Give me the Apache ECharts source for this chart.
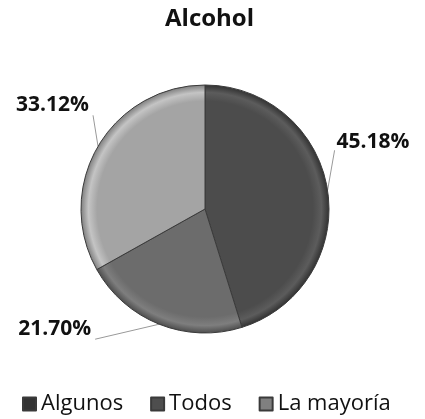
<!DOCTYPE html>
<html>
<head>
<meta charset="utf-8">
<script src="https://cdn.jsdelivr.net/npm/echarts@6/dist/echarts.min.js"></script>
<style>
  html, body { margin: 0; padding: 0; background: #fff; }
  #chart { width: 425px; height: 419px; }
</style>
</head>
<body>
<div id="chart"></div>
<script>
// Share of respondents by answer
const categories = ['Algunos', 'Todos', 'La mayoría'];
const shares = [45.18, 21.70, 33.12];

// base tone, rim highlight, outer edge for each slice
const sliceTones = [
  ['#4c4c4c', '#5c5c5c', '#333333'],
  ['#6c6c6c', '#7e7e7e', '#4e4e4e'],
  ['#a4a4a4', '#c4c4c4', '#808080']
];
// leader line elbow offset from the slice edge, and label side
const leaderOffset = [[7, -40], [-64, 15], [-5, -31]];
const labelSide = ['left', 'right', 'right'];

const chart = echarts.init(document.getElementById('chart'));
const font = '"Open Sans", "Liberation Sans", sans-serif';
const cx = 205, cy = 209, R = 124;

chart.setOption({
  animation: false,
  title: {
    text: 'Alcohol',
    left: 160,
    top: 2,
    textStyle: { fontFamily: font, fontSize: 24, fontWeight: 'bold', color: '#111' }
  },
  legend: {
    bottom: -1,
    left: 17,
    itemWidth: 13,
    itemHeight: 13,
    itemGap: 27,
    icon: 'rect',
    textStyle: { fontFamily: font, fontSize: 22, color: '#111' },
    data: categories
  },
  series: [{
    type: 'pie',
    center: [cx, cy],
    radius: R,
    startAngle: 90,
    clockwise: true,
    data: categories.map((name, i) => ({
      name: name,
      value: shares[i],
      itemStyle: {
        color: {
          type: 'radial', x: cx, y: cy, r: R, global: true,
          colorStops: [
            { offset: 0, color: sliceTones[i][0] },
            { offset: 0.87, color: sliceTones[i][0] },
            { offset: 0.94, color: sliceTones[i][1] },
            { offset: 1, color: sliceTones[i][2] }
          ]
        }
      }
    })),
    itemStyle: { borderColor: '#3a3a3a', borderWidth: 1 },
    label: {
      show: true,
      position: 'outside',
      overflow: 'none',
      formatter: p => shares[p.dataIndex].toFixed(2) + '%',
      fontFamily: font,
      fontSize: 21,
      fontWeight: 'bold',
      color: '#111'
    },
    labelLine: {
      show: true,
      length: 10,
      length2: 4,
      lineStyle: { color: '#999', width: 1 }
    },
    labelLayout: p => {
      const i = p.dataIndex;
      const start = p.labelLinePoints[0];
      const end = [start[0] + leaderOffset[i][0], start[1] + leaderOffset[i][1]];
      const left = labelSide[i] === 'left';
      return {
        x: end[0] + (left ? 2 : -4),
        y: end[1] - (i === 0 ? 8 : 10),
        align: left ? 'left' : 'right',
        verticalAlign: 'middle',
        labelLinePoints: [start, end, end]
      };
    }
  }]
});
</script>
</body>
</html>
